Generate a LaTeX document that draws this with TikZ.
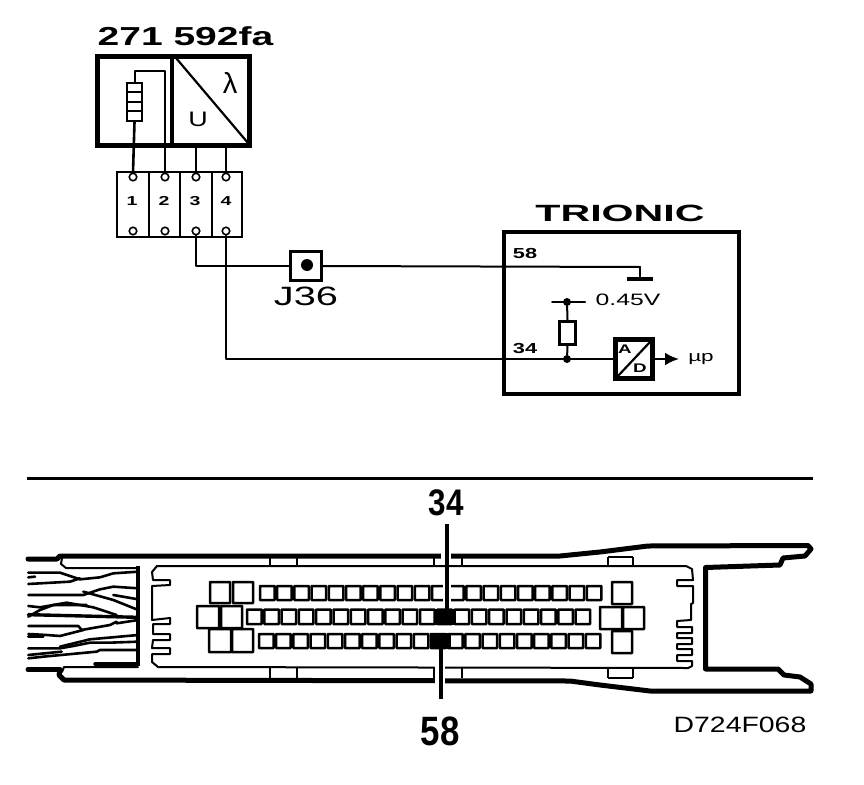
\documentclass[tikz,border=0pt]{standalone}
\usepackage{fontspec}
\setmainfont{Liberation Sans}
\newfontfamily\widefont[FakeStretch=1.5]{Liberation Sans}
\newfontfamily\xwidefont[FakeStretch=1.75]{Liberation Sans}
\newfontfamily\codefont[FakeStretch=1.28]{Liberation Sans}
\newfontfamily\narrowfont[FakeStretch=0.85]{Liberation Sans}
\usetikzlibrary{arrows.meta}
\tikzset{
  wire/.style={line width=2pt,line cap=round,line join=round},
  pinsq/.style={draw,line width=2.5pt,rounded corners=.5pt},
  hull/.style={line width=5pt,line join=round,line cap=round},
  thin body/.style={line width=2pt,line join=round,line cap=round},
  strand/.style={line width=2.6pt,line join=round,line cap=round},
  dot/.style={circle,fill=black,inner sep=0pt,minimum size=8pt},
  pinhole/.style={circle,draw,fill=white,line width=1.6pt,inner sep=0pt,minimum size=7.5pt},
  sm/.style={inner sep=0pt,font=\widefont\bfseries\fontsize{13}{13}\selectfont},
  tiny lbl/.style={inner sep=0pt,font=\widefont\bfseries\fontsize{14.5}{15}\selectfont}
}
\begin{document}
\begin{tikzpicture}[x=1pt,y=-1pt]
\useasboundingbox (0,0) rectangle (864,784);
\fill[white] (0,0) rectangle (864,784);

% ---- sensor
\node[inner sep=0pt,anchor=center,font=\widefont\bfseries\fontsize{26}{26}\selectfont] (title) at (185.5,36) {271 592fa};
\node[draw,line width=5pt,inner sep=0pt,minimum width=152pt,minimum height=88pt] (sensor) at (173.5,101) {};
\draw[line width=4.5pt] (172,55) -- (172,147);
\draw[line width=2.2pt] (176,58) -- (248,143);
\node[draw,line width=2pt,inner sep=0pt,minimum width=15pt,minimum height=38pt] (heater) at (134.5,102) {};
\foreach \yy in {92,102,111} \draw[line width=2pt] (127,\yy) -- (142,\yy);
\node[inner sep=0pt,font=\fontsize{29}{29}\selectfont] (lam) at (230,83) {\char"03BB};
\node[inner sep=0pt,font=\codefont\fontsize{21}{21}\selectfont] (uu) at (198,119) {U};

% ---- connector block
\node[draw,line width=2.2pt,inner sep=0pt,minimum width=125pt,minimum height=65pt] (block) at (179.5,204.5) {};
\foreach \xx in {149,180,212} \draw[line width=1.6pt] (\xx,172) -- (\xx,237);
\foreach \n/\xx/\tx in {1/133/132,2/165/164,3/196/195,4/226/226}{
  \node[pinhole] (pt\n) at (\xx,177) {};
  \node[pinhole] (pb\n) at (\xx,231) {};
  \node[sm] (num\n) at (\tx,201) {\n};
}
\draw[wire,line width=2.6pt] (heater.south) -- (pt1.north);
\draw[wire] (heater.north) -- (134.5,71) -- (165,71) -- (165,147);
\draw[wire,line width=2.6pt] (165,147) -- (pt2.north);
\draw[wire,line width=2.6pt] (196,147) -- (pt3.north);
\draw[wire] (226,147) -- (pt4.north);

% ---- J36
\node[draw,line width=3pt,inner sep=0pt,minimum width=31pt,minimum height=29pt] (j36) at (305.5,266) {};
\node[dot,minimum size=12pt] (j36dot) at (307,265) {};
\node[inner sep=0pt,font=\widefont\fontsize{26.5}{27}\selectfont,anchor=center] (j36l) at (306,296) {J36};

% ---- Trionic
\node[inner sep=0pt,font=\xwidefont\bfseries\fontsize{23.5}{24}\selectfont] (trtitle) at (620,213) {TRIONIC};
\node[draw,line width=4.4pt,inner sep=0pt,minimum width=235pt,minimum height=162pt] (ecu) at (621.5,313) {};
\node[tiny lbl] (l58) at (525,254) {58};
\node[tiny lbl] (l34) at (525,349) {34};

\coordinate (gnd) at (640,267);
\coordinate (g1) at (627,279);
\coordinate (g2) at (653,279);
\draw[wire] (pb3.south) |- (j36.west);
\draw[wire] (j36.east) -- (gnd);
\draw[wire] (gnd) -- (640,279);
\draw[line width=3.4pt] (g1) -- (g2);
\draw[wire,line width=2.2pt] (pb4.south) |- (614,359);

\node[dot] (n34) at (567,359) {};
\node[dot] (nv) at (567,302) {};
\node[draw,fill=white,line width=3pt,inner sep=0pt,minimum width=16pt,minimum height=23pt] (rpull) at (567.5,333) {};
\draw[wire] (nv) -- (rpull.north);
\draw[wire] (rpull.south) -- (n34);
\coordinate (va) at (552,302);
\coordinate (vb) at (585,302);
\draw[wire] (va) -- (vb);
\node[inner sep=0pt,font=\widefont\fontsize{16.5}{17}\selectfont] (v045) at (628,300) {0.45V};

\node[draw,fill=white,line width=4.4pt,inner sep=0pt,minimum width=37pt,minimum height=39pt] (adc) at (634,359) {};
\draw[line width=2.2pt] (617,377) -- (650,342);
\node[inner sep=0pt,font=\widefont\bfseries\fontsize{12.5}{13}\selectfont] (la) at (625,349) {A};
\node[inner sep=0pt,font=\widefont\bfseries\fontsize{12.5}{13}\selectfont] (ld) at (640,368) {D};
\coordinate (arrowend) at (679,359);
\draw[line width=2.6pt,-{Latex[length=14pt,width=13pt]}] (adc.east) -- (arrowend);
\node[inner sep=0pt,font=\widefont\fontsize{15}{15}\selectfont] (mup) at (701,359) {\char"00B5 p};

% ---- separator
\draw[line width=3pt] (27,478) -- (813,478);

% ---- ECU connector, hull
\draw[hull] (28,559) -- (57,559) -- (60,556) -- (250,556) -- (560,556) -- (600,552) -- (648,546) -- (808,545.5) -- (811,549) -- (805,556) -- (783,558) -- (780,565) -- (705.5,567.5) -- (705.5,669) -- (778,669) -- (784,675) -- (800,677) -- (811,684) -- (811,691) -- (650,691) -- (600,685) -- (570,681) -- (64,680) -- (59,675) -- (60,670);
\draw[hull] (28,669.5) -- (60,669.5);
\draw[thin body] (62,558) -- (61,564) -- (66,568) -- (138,568);
\draw[line width=3.4pt] (138,566) -- (138,666);
\draw[thin body] (62,672) -- (64,667) -- (138,667);
% channel closures and ticks
\draw[thin body] (157,566) -- (686,566) -- (692,569) -- (693,580) -- (677,580) -- (677,586) -- (693,586) -- (693,603) -- (691,604) -- (691,620) -- (677,621) -- (677,627) -- (692,627) -- (692,633) -- (677,633) -- (677,638) -- (692,638) -- (692,644) -- (677,644) -- (677,649) -- (692,649) -- (692,655) -- (677,655) -- (677,661) -- (692,661) -- (692,666) -- (688,668) -- (158,667) -- (152,662) -- (152,654) -- (170,654) -- (170,648) -- (152,648) -- (153,640) -- (170,640) -- (170,634) -- (153,634) -- (153,624) -- (170,624) -- (170,618) -- (152,620) -- (152,586) -- (170,585) -- (170,580) -- (153,580) -- (152,572) -- cycle;
\foreach \xx in {270,297,434,462} {
  \draw[line width=2pt] (\xx,558) -- (\xx,566);
  \draw[line width=2pt] (\xx,668) -- (\xx,678);
}
\foreach \xx in {608,633} {
  \draw[line width=2pt] (\xx,557) -- (\xx,566);
  \draw[line width=2pt] (\xx,668) -- (\xx,678);
}
\draw[line width=2pt] (608,557) -- (633,557);
\draw[line width=2pt] (608,678) -- (633,678);

% ---- wire bundle
\begin{scope}[shift={(0,520)},x=.3333pt,y=-.3333pt]
\draw[strand] (85,158) -- (180,158) -- (240,178) -- (300,172) -- (340,160) -- (415,155);
\draw[strand] (85,192) -- (210,185) -- (240,175);
\draw[strand] (85,172) -- (105,170);
\draw[strand] (85,225) -- (250,225) -- (300,208) -- (340,200) -- (415,205);
\draw[strand] (250,215) -- (340,240) -- (415,270);
\draw[strand] (340,225) -- (415,238);
\draw[strand] (85,258) -- (120,262) -- (200,248) -- (280,262) -- (350,285);
\draw[strand] (85,290) -- (120,270) -- (160,255) -- (260,255);
\draw[strand,line width=3.4pt] (85,284) -- (415,292);
\draw[strand] (350,310) -- (415,300);
\draw[strand] (85,318) -- (235,318) -- (245,330) -- (330,315) -- (350,305);
\draw[strand] (85,342) -- (140,345) -- (180,348) -- (250,330);
\draw[strand] (85,350) -- (130,350);
\draw[strand] (180,380) -- (270,358) -- (415,345);
\draw[strand] (85,385) -- (180,385) -- (220,378) -- (270,368) -- (330,368) -- (415,365);
\draw[strand] (85,405) -- (185,395);
\draw[strand] (85,415) -- (130,410) -- (290,395) -- (300,390) -- (415,390);
\draw[strand,line width=3.4pt] (285,432) -- (415,432);
\end{scope}

% ---- pins
\foreach \i in {0,...,19}{
  \pgfmathsetmacro{\xa}{260+17.2*\i}
  \pgfmathsetmacro{\xb}{247+17.3*\i}
  \pgfmathsetmacro{\xc}{259+17.2*\i}
  \draw[pinsq] (\xa,586) rectangle ++(14.5,14);
  \draw[pinsq] (\xb,609.5) rectangle ++(14.5,14.5);
  \draw[pinsq] (\xc,634) rectangle ++(14.5,14);
}
\foreach \xa/\xb/\ya/\yb in {210/230/582/603,233/253/582/603,197/219/606/628,221/242/606/628,209/231/629/652,232/253/629/652,612/632/582/604,600/622/607/629,623/644/607/629,612/632/631/653}
  \draw[pinsq] (\xa,\ya) rectangle (\xb,\yb);

% ---- pin 34 / 58 callouts
\fill[white] (441,550) rectangle (451,563);
\fill[white] (435,664) rectangle (445,684);
\fill[white] (443,584) rectangle (451,602);
\fill (435,609) rectangle (456,625);
\fill (430,633) rectangle (451,649);
\node[inner sep=0pt,font=\narrowfont\bfseries\fontsize{37}{37}\selectfont] (c34) at (446,503) {34};
\node[inner sep=0pt,font=\narrowfont\bfseries\fontsize{41}{41}\selectfont] (c58) at (440,731) {58};
\draw[line width=3.6pt] (447,524) -- (447,610);
\draw[line width=4pt] (441,648) -- (441,699);

\node[inner sep=0pt,font=\codefont\fontsize{22.2}{23}\selectfont] (code) at (740,725) {D724F068};
\end{tikzpicture}
\end{document}
